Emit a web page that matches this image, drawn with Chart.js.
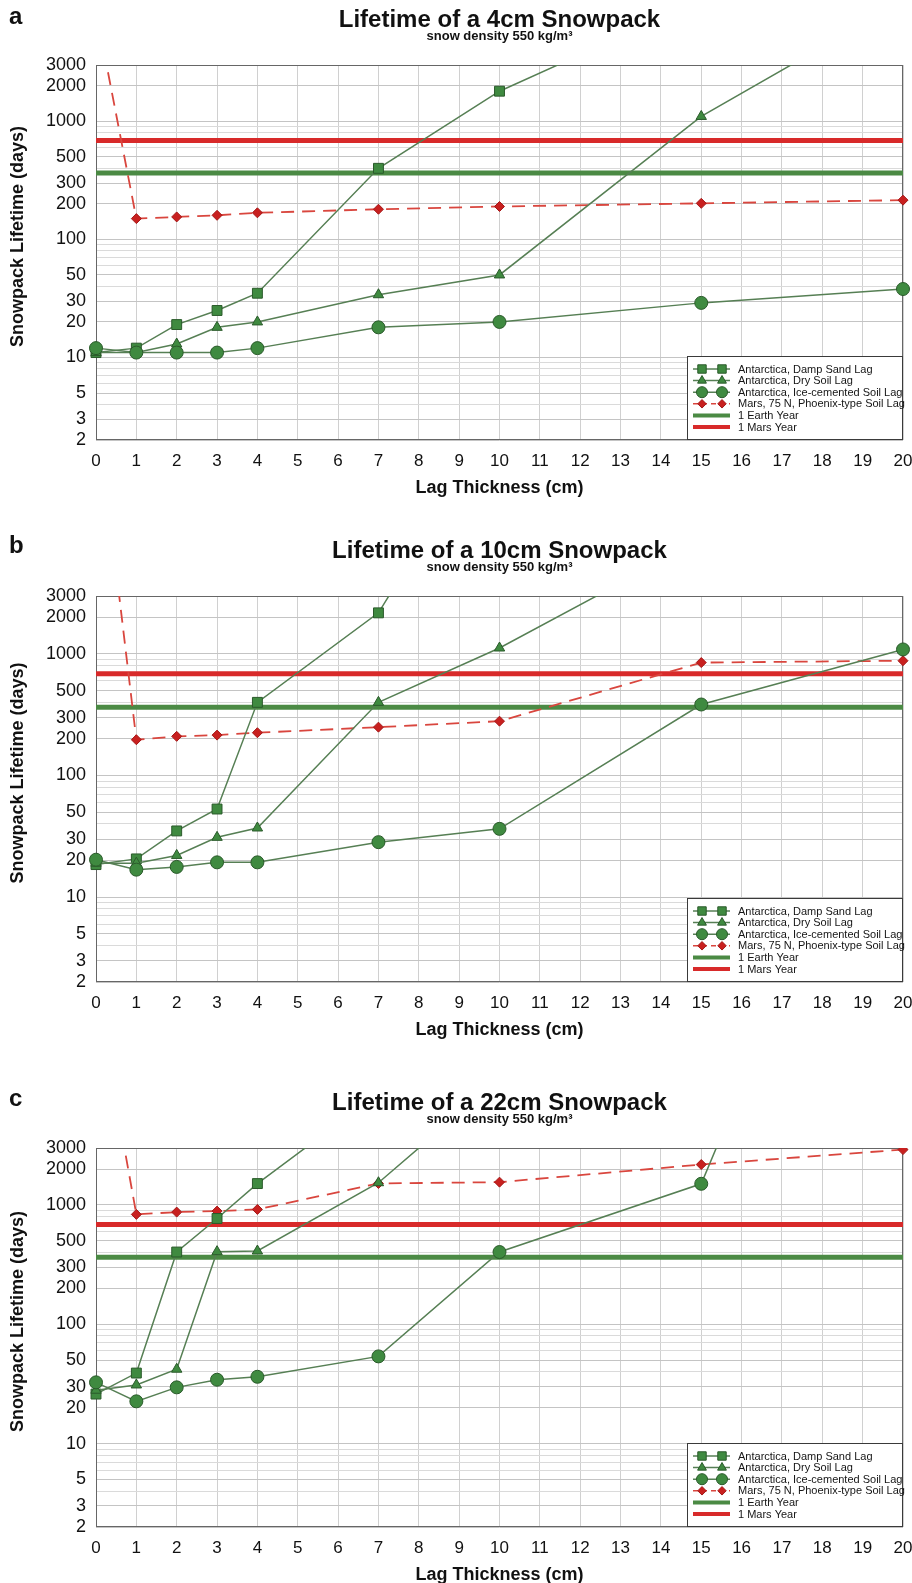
<!DOCTYPE html>
<html>
<head>
<meta charset="utf-8">
<script src="https://cdn.jsdelivr.net/npm/chart.js@4.4.1/dist/chart.umd.min.js"></script>
<style>
	body {
		margin: 0;
		width: 912px;
		height: 1583px;
		overflow: hidden;
		position: relative;
		background: #fff;
		font-family: 'Liberation Sans', Arial, sans-serif;
	}
	canvas {
		position: absolute;
		left: 0;
	}
	.panelLetter {
		position: absolute;
		left: 9px;
		font-size: 24px;
		font-weight: bold;
		color: #111;
		z-index: 2;
	}
</style>
</head>
<body>
<div class="panelLetter" style="top:2px">a</div>
<canvas id="chartA" width="912" height="500" style="top:0px"></canvas>
<div class="panelLetter" style="top:531px">b</div>
<canvas id="chartB" width="912" height="511" style="top:531px"></canvas>
<div class="panelLetter" style="top:1084px">c</div>
<canvas id="chartC" width="912" height="504" style="top:1083px"></canvas>

<script>
const lagThickness = [0, 1, 2, 3, 4, 7, 10, 15, 20];
const yTickLabels = [2, 3, 5, 10, 20, 30, 50, 100, 200, 300, 500, 1000, 2000, 3000];
const earthYear = 365;
const marsYear = 687;

// Lifetime in days for each lag thickness (null = no point)
const dampSand4cm = [11, 12, 19, 25, 35, 400, 1800, 10600, null];
const drySoil4cm = [11, 11, 13, 18, 20, 34, 50, 1100, 10500];
const iceSoil4cm = [12, 11, 11, 11, 12, 18, 20, 29, 38];
const marsSoil4cm = [8700, 150, 155, 160, 168, 180, 190, 202, 215];

const dampSand10cm = [18.5, 20.6, 35, 53, 400, 2180, 90000, null, null];
const drySoil10cm = [19, 19, 22, 31, 37, 400, 1120, 8700, null];
const iceSoil10cm = [20.3, 16.8, 17.7, 19.3, 19.3, 28.3, 36.4, 384, 1090];
const marsSoil10cm = [120000, 197, 210, 215, 225, 250, 280, 850, 880];

const dampSand22cm = [26, 39, 403, 770, 1510, 8600, null, null, null];
const drySoil22cm = [28, 31, 42, 406, 411, 1535, 11400, null, null];
const iceSoil22cm = [32.6, 22.6, 29.6, 34.3, 36.3, 53.8, 403, 1504, 16000000];
const marsSoil22cm = [63000, 833, 871, 888, 917, 1513, 1552, 2180, 2910];

const seriesNames = [
	'Antarctica, Damp Sand Lag',
	'Antarctica, Dry Soil Lag',
	'Antarctica, Ice-cemented Soil Lag',
	'Mars, 75 N, Phoenix-type Soil Lag',
	'1 Earth Year',
	'1 Mars Year'
];
const yAxisTitle = 'Snowpack Lifetime (days)';

const GREEN_LINE = '#567f54';
const GREEN_FILL = '#3f8a40';
const GREEN_EDGE = '#2a5a2a';
const RED_LINE = '#d9463e';
const RED_FILL = '#c8201f';
const FONT = "'Liberation Sans', Arial, sans-serif";

Chart.defaults.font.family = FONT;
Chart.defaults.color = '#111';

function toPoints(values) {
	return lagThickness
		.map((x, i) => ({ x: x, y: values[i] }))
		.filter(p => p.y !== null);
}

function horizontalLine(value) {
	return [{ x: lagThickness[0], y: value }, { x: lagThickness[lagThickness.length - 1], y: value }];
}

// every 1..9 x 10^n between the axis limits gets a grid line
function logGridTicks(scale) {
	let ticks = [];
	for (let decade = 1; decade <= 1000; decade *= 10) {
		for (let m = 1; m <= 9; m++) {
			let v = m * decade;
			if (v >= scale.min && v <= scale.max) {
				ticks.push({ value: v });
			}
		}
	}
	scale.ticks = ticks;
}

const plotFrame = {
	id: 'plotFrame',
	beforeDatasetsDraw(chart) {
		const { ctx, chartArea } = chart;
		ctx.save();
		ctx.strokeStyle = '#666';
		ctx.lineWidth = 1;
		ctx.strokeRect(Math.round(chartArea.left) + 0.5, Math.round(chartArea.top) + 0.5,
			Math.round(chartArea.width) - 1, Math.round(chartArea.height) - 1);
		ctx.restore();
	}
};

// vertical axis title, sitting a bit above the middle of the plot
const sideTitle = {
	id: 'sideTitle',
	afterDraw(chart) {
		const { ctx, chartArea } = chart;
		ctx.save();
		ctx.translate(18, (chartArea.top + chartArea.bottom) / 2 - 16);
		ctx.rotate(-Math.PI / 2);
		ctx.font = 'bold 18px ' + FONT;
		ctx.fillStyle = '#111';
		ctx.textAlign = 'center';
		ctx.textBaseline = 'middle';
		ctx.fillText(yAxisTitle, 0, 0);
		ctx.restore();
	}
};

// legend box sitting in the lower right corner of the plot
const insideLegend = {
	id: 'insideLegend',
	afterDatasetsDraw(chart) {
		const { ctx, chartArea } = chart;
		const w = 216;
		const h = 84;
		const left = Math.round(chartArea.right) - w;
		const top = Math.round(chartArea.bottom) - h;

		ctx.save();
		ctx.fillStyle = '#fff';
		ctx.fillRect(left, top, w, h);
		ctx.strokeStyle = '#3a3a3a';
		ctx.lineWidth = 1;
		ctx.strokeRect(left + 0.5, top + 0.5, w - 1, h - 1);

		ctx.font = '11px ' + FONT;
		ctx.textBaseline = 'middle';

		chart.data.datasets.forEach((ds, i) => {
			const y = top + 13 + i * 11.6;
			ctx.strokeStyle = ds.borderColor;
			ctx.lineWidth = ds.pointRadius > 0 ? 1.5 : 4;
			ctx.setLineDash(ds.borderDash && ds.borderDash.length ? [5, 4] : []);
			ctx.beginPath();
			ctx.moveTo(left + 6, y);
			ctx.lineTo(left + 43, y);
			ctx.stroke();
			ctx.setLineDash([]);

			if (ds.pointRadius > 0) {
				ctx.fillStyle = ds.pointBackgroundColor;
				ctx.strokeStyle = ds.pointBorderColor;
				ctx.lineWidth = 1;
				[left + 15, left + 35].forEach(px => {
					Chart.helpers.drawPoint(ctx, {
						pointStyle: ds.pointStyle,
						radius: ds.pointRadius * 0.85,
						rotation: 0,
						borderWidth: 1
					}, px, y);
				});
			}

			ctx.fillStyle = '#151515';
			ctx.fillText(ds.label, left + 51, y + 0.5);
		});
		ctx.restore();
	}
};

function seriesDataset(label, values, pointStyle, radius, order) {
	return {
		label: label,
		data: toPoints(values),
		borderColor: GREEN_LINE,
		borderWidth: 1.5,
		pointStyle: pointStyle,
		pointRadius: radius,
		pointBackgroundColor: GREEN_FILL,
		pointBorderColor: GREEN_EDGE,
		pointBorderWidth: 1,
		clip: { left: 10, right: 10, top: 0, bottom: 0 },
		order: order
	};
}

function CreateSnowpackChart(canvasId, title, dampSand, drySoil, iceSoil, marsSoil) {
	const ctx = document.getElementById(canvasId);

	const datasets = [
		seriesDataset(seriesNames[0], dampSand, 'rect', 7, 3),
		seriesDataset(seriesNames[1], drySoil, 'triangle', 6, 2),
		seriesDataset(seriesNames[2], iceSoil, 'circle', 6.5, 1),
		{
			label: seriesNames[3],
			data: toPoints(marsSoil),
			borderColor: RED_LINE,
			borderWidth: 1.8,
			borderDash: [13, 8],
			pointStyle: 'rectRot',
			pointRadius: 5,
			pointBackgroundColor: RED_FILL,
			pointBorderColor: '#a51818',
			pointBorderWidth: 1,
			clip: { left: 10, right: 10, top: 0, bottom: 0 },
			order: 4
		},
		{
			label: seriesNames[4],
			data: horizontalLine(earthYear),
			borderColor: '#4b8a44',
			borderWidth: 5,
			pointRadius: 0,
			order: 6
		},
		{
			label: seriesNames[5],
			data: horizontalLine(marsYear),
			borderColor: '#d82a2a',
			borderWidth: 5,
			pointRadius: 0,
			order: 6
		}
	];

	return new Chart(ctx, {
		type: 'line',
		data: { datasets: datasets },
		plugins: [plotFrame, insideLegend, sideTitle],
		options: {
			responsive: false,
			animation: false,
			events: [],
			layout: {
				padding: { top: 0, left: 0, right: 9, bottom: 1 }
			},
			elements: {
				line: { tension: 0 }
			},
			plugins: {
				legend: { display: false },
				tooltip: { enabled: false },
				title: {
					display: true,
					text: title,
					fullSize: false,
					font: { size: 24, weight: 'bold', lineHeight: 1 },
					padding: { top: 8, bottom: -2 }
				},
				subtitle: {
					display: true,
					text: 'snow density 550 kg/m³',
					fullSize: false,
					color: '#111',
					font: { size: 13, weight: 'bold', lineHeight: 1 },
					padding: { top: 0, bottom: 22 }
				}
			},
			scales: {
				x: {
					type: 'linear',
					min: 0,
					max: 20,
					afterFit: (scale) => {
						scale.height = 59;
						scale.paddingRight = 9;
					},
					ticks: {
						stepSize: 1,
						autoSkip: false,
						maxRotation: 0,
						padding: 11,
						font: { size: 17 }
					},
					grid: {
						drawTicks: false,
						color: '#d0d0d0'
					},
					border: { display: false },
					title: {
						display: true,
						text: 'Lag Thickness (cm)',
						font: { size: 18, weight: 'bold' },
						padding: { top: 0, bottom: 0 }
					}
				},
				y: {
					type: 'logarithmic',
					min: 2,
					max: 3000,
					afterBuildTicks: logGridTicks,
					afterFit: (scale) => { scale.width = 96; },
					ticks: {
						autoSkip: false,
						padding: 10,
						font: { size: 18 },
						callback: (value) => yTickLabels.includes(value) ? String(value) : ''
					},
					grid: {
						drawTicks: false,
						color: (c) => yTickLabels.includes(c.tick && c.tick.value) ? '#c4c4c4' : '#dadada'
					},
					border: { display: false },
					title: { display: false }
				}
			}
		}
	});
}

CreateSnowpackChart('chartA', 'Lifetime of a 4cm Snowpack', dampSand4cm, drySoil4cm, iceSoil4cm, marsSoil4cm);
CreateSnowpackChart('chartB', 'Lifetime of a 10cm Snowpack', dampSand10cm, drySoil10cm, iceSoil10cm, marsSoil10cm);
CreateSnowpackChart('chartC', 'Lifetime of a 22cm Snowpack', dampSand22cm, drySoil22cm, iceSoil22cm, marsSoil22cm);
</script>
</body>
</html>
